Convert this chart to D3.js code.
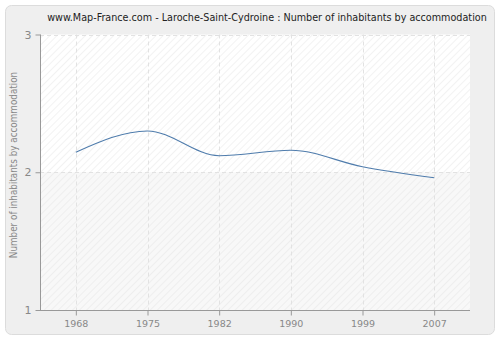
<!DOCTYPE html>
<html>
<head>
<meta charset="utf-8">
<script src="https://cdn.jsdelivr.net/npm/d3@7"></script>
<style>
  body { margin: 0; background: #fff; }
  svg { display: block; font-family: "DejaVu Sans", Verdana, sans-serif; }
</style>
</head>
<body>
<svg id="chart" width="500" height="340"></svg>
<script>
const years = ['1968', '1975', '1982', '1990', '1999', '2007'];
const inhabitants = [2.145, 2.30, 2.12, 2.16, 2.04, 1.96];
const yTicks = [1, 2, 3];

const titleText = 'www.Map-France.com - Laroche-Saint-Cydroine : Number of inhabitants by accommodation';
const yLabelText = 'Number of inhabitants by accommodation';
const condensed = '"DejaVu Sans Condensed", "DejaVu Sans", sans-serif';

const svg = d3.select('#chart');
const plot = { left: 40, right: 470, top: 34.5, bottom: 310 };

const x = d3.scalePoint().domain(years).range([plot.left, plot.right]).padding(0.5);
const y = d3.scaleLinear().domain([1, 3]).range([plot.bottom, plot.top]);

// hatch pattern
const defs = svg.append('defs');
const pat = defs.append('pattern')
    .attr('id', 'hatch')
    .attr('patternUnits', 'userSpaceOnUse')
    .attr('width', 5).attr('height', 5)
    .attr('patternTransform', 'rotate(45)');
pat.append('line')
    .attr('x1', 0).attr('y1', 0).attr('x2', 0).attr('y2', 5)
    .attr('stroke', '#e2e2e2').attr('stroke-width', 1);

// outer panel
svg.append('rect')
    .attr('x', 5.5).attr('y', 5.5)
    .attr('width', 489).attr('height', 329)
    .attr('rx', 6)
    .attr('fill', '#efefef')
    .attr('stroke', '#dcdcdc');

// plot background
svg.append('rect')
    .attr('x', plot.left).attr('y', plot.top)
    .attr('width', plot.right - plot.left).attr('height', plot.bottom - plot.top)
    .attr('fill', '#fff');
svg.append('rect')
    .attr('x', plot.left).attr('y', y(2))
    .attr('width', plot.right - plot.left).attr('height', plot.bottom - y(2))
    .attr('fill', '#f8f8f8');
svg.append('rect')
    .attr('x', plot.left).attr('y', plot.top)
    .attr('width', plot.right - plot.left).attr('height', plot.bottom - plot.top)
    .attr('fill', 'url(#hatch)')
    .attr('opacity', 0.85);

// grid
const grid = svg.append('g').attr('stroke', '#e2e2e2').attr('stroke-dasharray', '4,3');
grid.selectAll('.vg').data(years).enter().append('line')
    .attr('x1', d => Math.round(x(d)) + 0.5).attr('x2', d => Math.round(x(d)) + 0.5)
    .attr('y1', plot.top).attr('y2', plot.bottom);
grid.selectAll('.hg').data(yTicks.filter(t => t > 1)).enter().append('line')
    .attr('x1', plot.left).attr('x2', plot.right)
    .attr('y1', d => Math.round(y(d)) + 0.5).attr('y2', d => Math.round(y(d)) + 0.5);

// axes
const axisColor = '#999';
const yAxis = svg.append('g')
    .attr('transform', `translate(${plot.left + 0.5},0)`)
    .call(d3.axisLeft(y).tickValues(yTicks).tickSize(5).tickPadding(4).tickFormat(d3.format('d')));
yAxis.select('.domain').attr('stroke', axisColor).attr('d', `M0,${plot.top}V${plot.bottom}`);
yAxis.selectAll('.tick line').attr('stroke', axisColor);
yAxis.selectAll('.tick text').attr('fill', '#888').attr('font-size', 11)
    .attr('font-family', '"DejaVu Sans", Verdana, sans-serif');

const xAxis = svg.append('g')
    .attr('transform', `translate(0,${plot.bottom + 0.5})`)
    .call(d3.axisBottom(x).tickSize(5).tickPadding(5));
xAxis.select('.domain').attr('stroke', axisColor).attr('d', `M${plot.left},0H${plot.right}`);
xAxis.selectAll('.tick line').attr('stroke', axisColor);
xAxis.selectAll('.tick text').attr('fill', '#888').attr('font-size', 9.5)
    .attr('font-family', '"DejaVu Sans", Verdana, sans-serif');

// line
const line = d3.line()
    .x((d, i) => x(years[i]))
    .y(d => y(d))
    .curve(d3.curveMonotoneX);
svg.append('path')
    .datum(inhabitants)
    .attr('fill', 'none')
    .attr('stroke', '#4f7cac')
    .attr('stroke-width', 1.1)
    .attr('d', line);

// title
svg.append('text')
    .attr('x', 267).attr('y', 21)
    .attr('text-anchor', 'middle')
    .attr('font-family', condensed)
    .attr('font-size', 10.7)
    .attr('fill', '#222')
    .text(titleText);

// y label
svg.append('text')
    .attr('transform', `translate(17,165) rotate(-90)`)
    .attr('text-anchor', 'middle')
    .attr('font-family', condensed)
    .attr('font-size', 9.8)
    .attr('fill', '#888')
    .text(yLabelText);
</script>
</body>
</html>
